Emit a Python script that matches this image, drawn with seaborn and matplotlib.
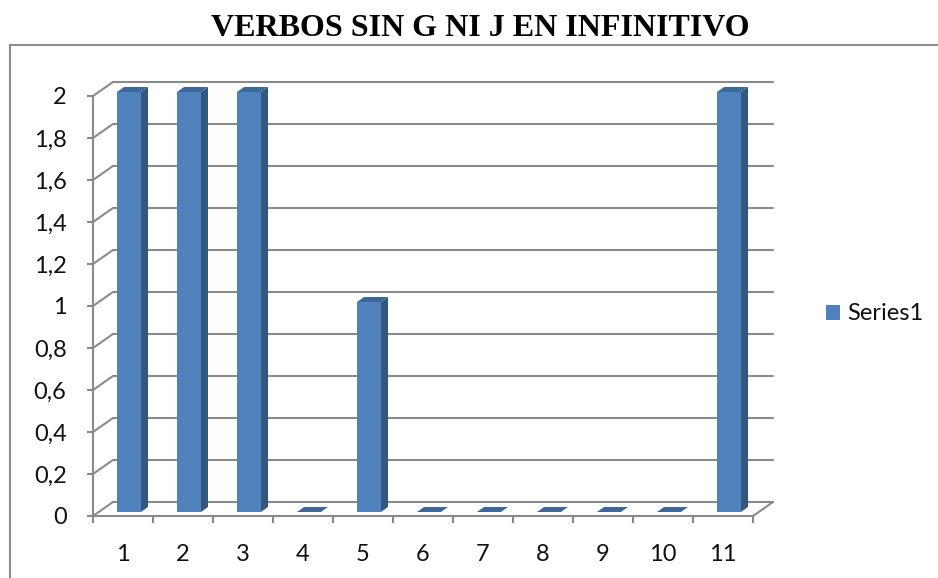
import matplotlib
matplotlib.use('Agg')
import matplotlib.pyplot as plt
import matplotlib.transforms as mtransforms
from matplotlib.patches import Polygon, Rectangle, Patch
import seaborn as sns

categories = ['1', '2', '3', '4', '5', '6', '7', '8', '9', '10', '11']
values = [2, 2, 2, 0, 1, 0, 0, 0, 0, 0, 2]
y_ticks = [0, 0.2, 0.4, 0.6, 0.8, 1, 1.2, 1.4, 1.6, 1.8, 2]
y_labels = ['0', '0,2', '0,4', '0,6', '0,8', '1', '1,2', '1,4', '1,6', '1,8', '2']
series_name = 'Series1'
title = 'VERBOS SIN G NI J EN INFINITIVO'

FRONT = '#4f81bd'
SIDE = '#34577f'
TOP = '#3e6799'
GRID = '#8a8a8a'
TXT = '#111111'
LABEL_FONT = ['Lato', 'DejaVu Sans']

# 3d look: back wall offset and bar front/back offsets (pixels, y up)
WALL = (20, 14)
BAR_FRONT = (6, 4)
BAR_BACK = (13, 9)

sns.set_style('white')
fig = plt.figure(figsize=(9.38, 5.78), dpi=100)
ax = fig.add_axes([93 / 938, 62 / 578, 660 / 938, 420 / 578])

sns.barplot(x=categories, y=values, color=FRONT, saturation=1, width=0.4,
            ax=ax, zorder=3)
ax.set_xlim(-0.5, len(categories) - 0.5)
ax.set_ylim(0, 2)
ax.set_xlabel('')
ax.set_ylabel('')

ident = mtransforms.IdentityTransform()


def px(x, y, off=(0, 0)):
    X, Y = ax.transData.transform((x, y))
    return X + off[0], Y + off[1]


def line(p, q, **kw):
    ax.add_line(plt.Line2D([p[0], q[0]], [p[1], q[1]], transform=ident,
                           color=GRID, lw=1.5, clip_on=False, zorder=1, **kw))


x0, x1 = ax.get_xlim()
# back wall grid + left wall diagonals
for yv in y_ticks:
    line(px(x0, yv, WALL), px(x1, yv, WALL))
    line(px(x0, yv), px(x0, yv, WALL))
# floor
line(px(x1, 0), px(x1, 0, WALL))

# bars: shift front face, add side and top faces
shift = mtransforms.ScaledTranslation(BAR_FRONT[0] / 100, BAR_FRONT[1] / 100,
                                      fig.dpi_scale_trans)
for bar in ax.patches:
    bx, bw, bh = bar.get_x(), bar.get_width(), bar.get_height()
    bar.set_transform(ax.transData + shift)
    bar.set_clip_on(False)
    bar.set_edgecolor('none')
    side = [px(bx + bw, 0, BAR_FRONT), px(bx + bw, bh, BAR_FRONT),
            px(bx + bw, bh, BAR_BACK), px(bx + bw, 0, BAR_BACK)]
    top = [px(bx, bh, BAR_FRONT), px(bx + bw, bh, BAR_FRONT),
           px(bx + bw, bh, BAR_BACK), px(bx, bh, BAR_BACK)]
    ax.add_patch(Polygon(side, closed=True, transform=ident, facecolor=SIDE,
                         edgecolor='none', clip_on=False, zorder=2))
    ax.add_patch(Polygon(top, closed=True, transform=ident, facecolor=TOP,
                         edgecolor='none', clip_on=False, zorder=4))

# axes spines and ticks
for s in ['top', 'right']:
    ax.spines[s].set_visible(False)
for s in ['left', 'bottom']:
    ax.spines[s].set_color(GRID)
    ax.spines[s].set_linewidth(1.5)

ax.set_yticks(y_ticks)
ax.set_yticklabels(y_labels, fontfamily=LABEL_FONT, fontsize=17, color=TXT)
ax.tick_params(axis='y', direction='out', length=4, width=1.5, color=GRID, pad=15, left=True)
ax.set_xticks(range(len(categories)))
ax.set_xticklabels(categories, fontfamily=LABEL_FONT, fontsize=17, color=TXT)
ax.set_xticks([i - 0.5 for i in range(len(categories) + 1)], minor=True)
ax.tick_params(axis='x', which='major', length=0, pad=20)
ax.tick_params(axis='x', which='minor', direction='out', length=5, width=1.5,
               color=GRID, bottom=True)

# legend
handle = Patch(facecolor=FRONT, edgecolor='none', label=series_name)
fig.legend(handles=[handle], loc='center left', bbox_to_anchor=(826 / 938, 1 - 314 / 578),
           frameon=False, prop={'family': LABEL_FONT, 'size': 17},
           handlelength=0.6, handleheight=0.6, handletextpad=0.3,
           borderpad=0, borderaxespad=0, labelcolor=TXT)

# title
fig.text(480 / 938, 1 - 29 / 578, title, ha='center', va='center', color='black',
         fontfamily='Liberation Serif', fontweight='bold', fontsize=23)

# chart border
fig.patches.append(Rectangle((10 / 938, -0.1), 1.2, 1.1 - 45 / 578,
                             transform=fig.transFigure, fill=False,
                             edgecolor='#8c8c8c', lw=1.5))

fig.savefig('out.png', dpi=100)
